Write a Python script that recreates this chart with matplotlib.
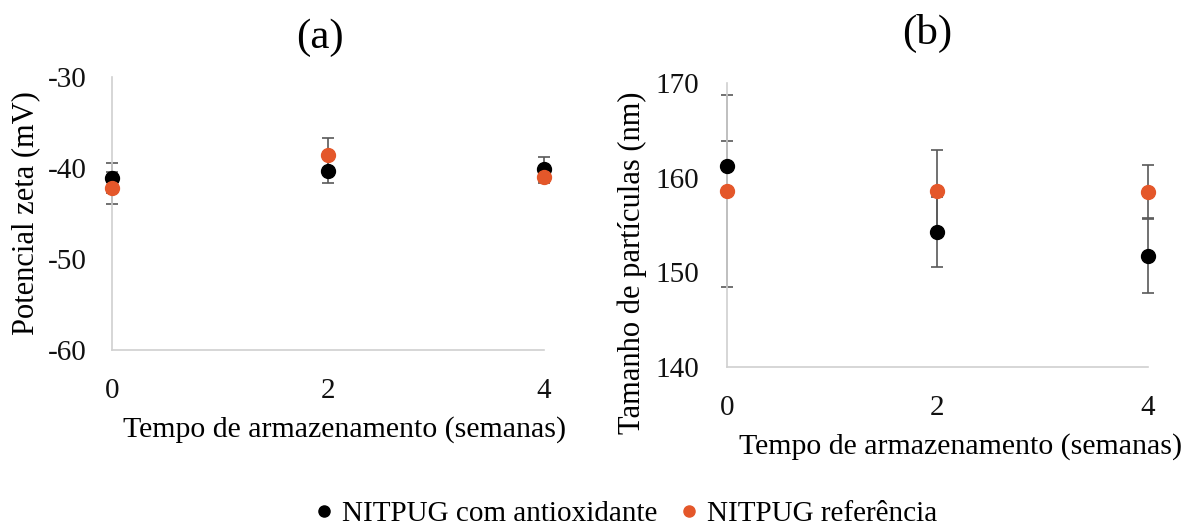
import numpy as np
import matplotlib
matplotlib.use("Agg")
import matplotlib.pyplot as plt
from matplotlib.lines import Line2D

plt.rcParams["font.family"] = ["Liberation Serif", "DejaVu Serif"]
plt.rcParams["axes.unicode_minus"] = False

weeks = [0, 2, 4]

# zeta potential (mV)
zeta_anti = [-41.1, -40.3, -40.1]
zeta_anti_err = [1.6, 1.4, 1.3]
zeta_ref = [-42.2, -38.6, -41.0]
zeta_ref_err = [1.8, 1.9, 0.6]

# particle size (nm)
size_anti = [161.2, 154.3, 151.7]
size_anti_err = [2.7, 3.7, 3.9]
size_ref = [158.6, 158.6, 158.5]
size_ref_err = [10.1, 4.3, 2.8]

label_anti = "NITPUG com antioxidante"
label_ref = "NITPUG referência"
c_anti = "#000000"
c_ref = "#E4572A"
err_color = "#595959"
axis_color = "#D0D0D0"

fig = plt.figure(figsize=(11.9, 5.29), dpi=100)
ax_a = fig.add_axes([0.0941, 0.3384, 0.3630, 0.5160])
ax_b = fig.add_axes([0.6109, 0.3062, 0.3538, 0.5369])


def draw_panel(ax, y1, e1, y2, e2, ylim, yticks, ylabel, ypad, xlab_x, ylab_y):
    for y, e in [(y1, e1), (y2, e2)]:
        ax.errorbar(weeks, y, yerr=e, fmt="none", ecolor=err_color,
                    elinewidth=1.2, capsize=4, capthick=1.2, zorder=2,
                    clip_on=False)
    ax.plot(weeks, y1, "o", color=c_anti, markersize=10, zorder=3, clip_on=False)
    ax.plot(weeks, y2, "o", color=c_ref, markersize=10, zorder=4, clip_on=False)
    ax.set_xlim(0, 4)
    ax.set_ylim(*ylim)
    ax.set_xticks([0, 2, 4])
    ax.set_yticks(yticks)
    for s in ["top", "right"]:
        ax.spines[s].set_visible(False)
    for s in ["left", "bottom"]:
        ax.spines[s].set_color(axis_color)
        ax.spines[s].set_linewidth(1.2)
    ax.tick_params(length=0, labelsize=21, colors="#111111")
    ax.tick_params(axis="x", pad=20)
    ax.tick_params(axis="y", pad=ypad)
    ax.set_xlabel("Tempo de armazenamento (semanas)", fontsize=21.5, labelpad=9)
    ax.set_ylabel(ylabel, fontsize=22, labelpad=6)
    ax.xaxis.label.set_x(xlab_x)
    ax.yaxis.label.set_y(ylab_y)


draw_panel(ax_a, zeta_anti, zeta_anti_err, zeta_ref, zeta_ref_err,
           (-60, -30), [-60, -50, -40, -30], "Potencial zeta (mV)", 18,
           0.539, 0.5)
draw_panel(ax_b, size_anti, size_anti_err, size_ref, size_ref_err,
           (140, 170), [140, 150, 160, 170], "Tamanho de partículas (nm)", 20,
           0.556, 0.366)

# panel letters
fig.text(320 / 1190, 1 - 38 / 529, "(a)", fontsize=31, ha="center", va="center")
fig.text(927 / 1190, 1 - 33 / 529, "(b)", fontsize=31, ha="center", va="center")

handles = [
    Line2D([], [], marker="o", linestyle="none", color=c_anti, markersize=8),
    Line2D([], [], marker="o", linestyle="none", color=c_ref, markersize=8),
]
fig.legend(handles, [label_anti, label_ref], loc="lower center",
           bbox_to_anchor=(0.524, -0.03), ncol=2, frameon=False,
           fontsize=21, handletextpad=0.1, columnspacing=0.6,
           handlelength=1.0, borderpad=0.1)

fig.savefig("out.png", dpi=100)
